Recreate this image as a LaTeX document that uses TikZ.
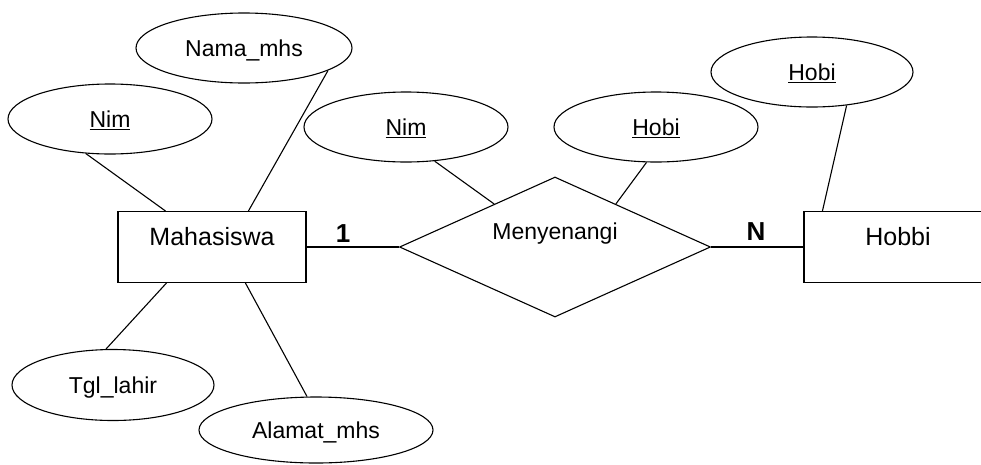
\documentclass[tikz,border=0pt]{standalone}
\usepackage{fontspec}
\setmainfont{Liberation Sans}
\usetikzlibrary{shapes.geometric,calc}
% underlined key attribute
\newcommand{\keyattr}[1]{\setbox0=\hbox{#1}\leavevmode\rlap{\rule[-3pt]{\wd0}{1.5pt}}\box0}

\begin{document}
\begin{tikzpicture}[x=1pt,y=-1pt,line width=1.1pt,
  attr/.style={draw,ellipse,inner sep=0pt,minimum width=204pt,minimum height=70pt,
    font=\fontsize{23}{27}\selectfont,text height=16.5pt,text depth=0pt},
  entity/.style={draw,rectangle,minimum width=188pt,minimum height=71pt,inner sep=0pt},
  enttext/.style={font=\fontsize{25}{30}\selectfont,text height=18pt,text depth=0pt,inner sep=0pt},
  reltext/.style={font=\fontsize{23}{27}\selectfont,text height=16.5pt,text depth=0pt,inner sep=0pt},
  card/.style={font=\bfseries\fontsize{26}{30}\selectfont,text height=18.6pt,text depth=0pt,inner sep=0pt}]
\useasboundingbox (0,0) rectangle (981,464);

% entities and relationship
\node[entity,label={[enttext,yshift=11pt]center:Mahasiswa}] (mhs) at (212,247) {};
\node[entity,label={[enttext,yshift=11pt]center:Hobbi}] (hobbi) at (898,247) {};
\node[draw,diamond,minimum width=311pt,minimum height=140pt,inner sep=0pt,
  label={[reltext,yshift=16pt]center:Menyenangi}] (rel) at (555,247) {};

% attributes
\node[attr,minimum width=216pt] (nama) at (244,48) {Nama\_mhs};
\node[attr] (nim1) at (110,119) {\keyattr{Nim}};
\node[attr] (nim2) at (406,127) {\keyattr{Nim}};
\node[attr] (hobi2) at (656,127) {\keyattr{Hobi}};
\node[attr,minimum width=202pt] (hobi3) at (812,72) {\keyattr{Hobi}};
\node[attr,minimum width=202pt,minimum height=71pt] (tgl) at (113,385) {Tgl\_lahir};
\node[attr,minimum width=234pt,minimum height=66pt] (alamat) at (316,430) {Alamat\_mhs};

% cardinalities
\node[card] (one) at (343,233) {1};
\node[card] (many) at (756,231) {N};

% connectors
\draw (nim1.-125) -- ([xshift=48pt]mhs.north west);
\draw (nama.-15) -- ([xshift=131pt]mhs.north west);
\draw (tgl.101) -- ([xshift=49pt]mhs.south west);
\draw (alamat.105) -- ([xshift=128pt]mhs.south west);
\draw (mhs.east) -- (rel.west);
\draw (rel.east) -- (hobbi.west);
\draw (nim2.-50) -- ($(rel.west)!0.61!(rel.north)$);
\draw (hobi2.-105) -- ($(rel.north)!0.39!(rel.east)$);
\draw (hobi3.-44) -- ([xshift=19pt]hobbi.north west);
\end{tikzpicture}
\end{document}
